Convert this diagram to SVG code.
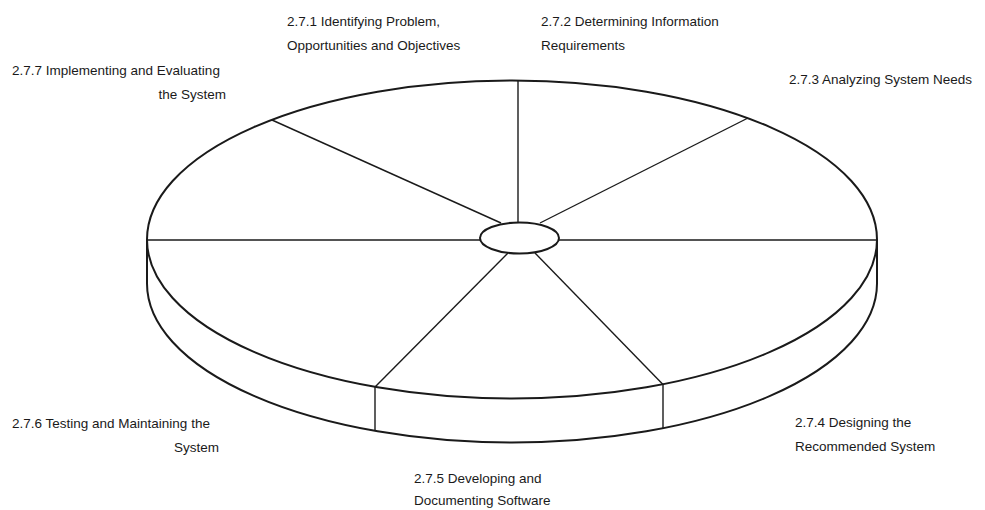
<svg xmlns="http://www.w3.org/2000/svg" width="985" height="510" viewBox="0 0 985 510">
<style>
.outline{fill:none;stroke:#1a1a1a;stroke-width:2}
.spoke{fill:none;stroke:#1a1a1a;stroke-width:1.4}
text{font-family:"Liberation Sans",Arial,sans-serif;font-size:13.5px;fill:#1a1a1a}
.r{text-anchor:end}
</style>
<rect width="985" height="510" fill="#fff"/>
<g id="cylinder">
<ellipse class="outline" cx="512" cy="239.5" rx="365" ry="159"/>
<path class="outline" d="M147,239.5 V283.5 A365,159 0 0 0 877,283.5 V239.5"/>
</g>
<g id="connectors">
<line class="spoke" x1="518" y1="80.5" x2="518" y2="222.5"/>
<line class="spoke" x1="272" y1="120" x2="501" y2="223"/>
<line class="spoke" x1="748" y1="118" x2="540" y2="223"/>
<line class="spoke" x1="147" y1="240" x2="480" y2="240"/>
<line class="spoke" x1="559" y1="240" x2="877" y2="240"/>
<line class="spoke" x1="375" y1="387" x2="508" y2="253"/>
<line class="spoke" x1="663" y1="384.5" x2="535" y2="253"/>
<line class="spoke" x1="375" y1="387" x2="375" y2="431"/>
<line class="spoke" x1="663" y1="384.5" x2="663" y2="428.5"/>
</g>
<g id="hub">
<ellipse class="outline" cx="519.5" cy="238" rx="39.5" ry="15.5" fill="#fff"/>
</g>
<g id="step1"><text x="287" y="25.5">2.7.1 Identifying Problem,</text><text x="287" y="49.5">Opportunities and Objectives</text></g>
<g id="step2"><text x="541" y="25.5">2.7.2 Determining Information</text><text x="541" y="49.5">Requirements</text></g>
<g id="step3"><text x="789" y="84">2.7.3 Analyzing System Needs</text></g>
<g id="step4"><text x="795" y="427">2.7.4 Designing the</text><text x="795" y="451">Recommended System</text></g>
<g id="step5"><text x="414" y="483">2.7.5 Developing and</text><text x="414" y="505">Documenting Software</text></g>
<g id="step6"><text x="12" y="428">2.7.6 Testing and Maintaining the</text><text class="r" x="219" y="452">System</text></g>
<g id="step7"><text x="12" y="75">2.7.7 Implementing and Evaluating</text><text class="r" x="226" y="99">the System</text></g>
</svg>
